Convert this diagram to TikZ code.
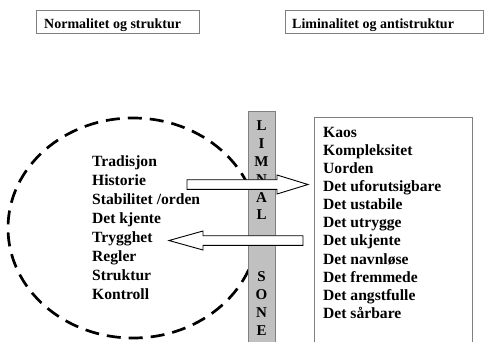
\documentclass[tikz,border=0pt]{standalone}
\usepackage{fontspec}
\setmainfont{Liberation Serif}
\definecolor{barfill}{HTML}{C0C0C0}
\definecolor{edgegray}{HTML}{808080}
\tikzset{
  titlebox/.style={draw=edgegray, line width=0.8pt, rectangle, inner sep=0pt, anchor=north west},
  titletext/.style={anchor=base west, inner sep=0pt, font=\bfseries\fontsize{14}{16}\selectfont},
  listtext/.style={anchor=base west, inner sep=0pt, font=\bfseries\fontsize{15.6}{18}\selectfont},
  barletter/.style={anchor=center, inner sep=0pt, font=\bfseries\fontsize{15}{17}\selectfont},
  barbox/.style={draw=edgegray, line width=0.8pt, fill=barfill, rectangle, inner sep=0pt, anchor=north west},
  listbox/.style={draw=edgegray, line width=0.8pt, rectangle, inner sep=0pt, anchor=north west},
  dashring/.style={draw=black, line width=2.7pt, dash pattern=on 14pt off 8pt, ellipse, inner sep=0pt},
  arrowbody/.style={draw=black, line width=0.9pt, fill=white, line join=miter}
}
\usetikzlibrary{shapes.geometric}
\begin{document}
\begin{tikzpicture}[x=1pt,y=-1pt]
\useasboundingbox (0,0) rectangle (484,341);
\clip (0,0) rectangle (484,341);
% title boxes
\node[titlebox, minimum width=163pt, minimum height=23pt] (t1) at (36,10) {};
\node[titletext] (t1txt) at (44,28.3) {Normalitet og struktur};
\node[titlebox, minimum width=198pt, minimum height=23pt] (t2) at (284.5,10) {};
\node[titletext] (t2txt) at (292,28.3) {Liminalitet og antistruktur};
% dashed ellipse
\node[dashring, minimum width=250pt, minimum height=220pt] (ring) at (133,228) {};
% liminal bar
\node[barbox, minimum width=27pt, minimum height=240pt] (bar) at (248,111) {};
\foreach \l/\yy [count=\i] in {L/125.5, I/143.4, M/161.3, N/179.2, A/197.1, L/215, S/277, O/294.7, N/312.4, E/330.1}{
  \node[barletter] (bl\i) at (261.5,\yy) {\l};
}
% arrows
\coordinate (a1tail) at (187,184.5);
\coordinate (a1tip) at (308,184.5);
\draw[arrowbody] (a1tail) ++(0,-4.8) -- ++(90,0) -- ++(0,-4.7) -- (a1tip) -- ++(-31,9.5) -- ++(0,-4.7) -- ++(-90,0) -- cycle;
\coordinate (a2tip) at (169,240.5);
\coordinate (a2tail) at (303,240.5);
\draw[arrowbody] (a2tip) -- ++(34,-9.5) -- ++(0,4.7) -- ++(100,0) -- ++(0,9.6) -- ++(-100,0) -- ++(0,4.7) -- cycle;
% right list box
\node[listbox, minimum width=158pt, minimum height=240pt] (rbox) at (314,117) {};
\foreach \t [count=\i from 0] in {Kaos, Kompleksitet, Uorden, Det uforutsigbare, Det ustabile, Det utrygge, Det ukjente, Det navnløse, Det fremmede, Det angstfulle, Det sårbare}{
  \node[listtext] (r\i) at (323,137.3+18.1*\i) {\t};
}
% left list
\foreach \t [count=\i from 0] in {Tradisjon, Historie, Stabilitet /orden, Det kjente, Trygghet, Regler, Struktur, Kontroll}{
  \node[listtext] (l\i) at (92,166.7+19.04*\i) {\t};
}
\end{tikzpicture}
\end{document}
